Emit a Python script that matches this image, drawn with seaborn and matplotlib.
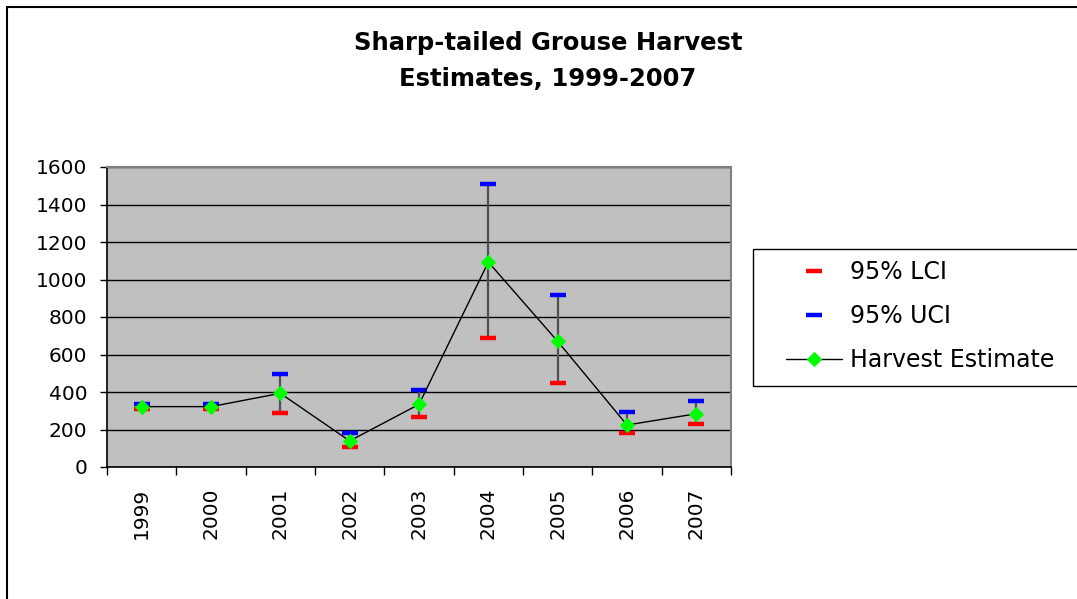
import numpy as np
import pandas as pd
import matplotlib
matplotlib.use("Agg")
import matplotlib.pyplot as plt
import seaborn as sns
from matplotlib.patches import Rectangle

years = ["1999", "2000", "2001", "2002", "2003", "2004", "2005", "2006", "2007"]
harvest = [322, 322, 393, 139, 334, 1093, 670, 224, 284]
lci = [312, 312, 290, 108, 267, 688, 446, 181, 229]
uci = [338, 338, 496, 183, 411, 1508, 917, 292, 352]
yticks = [0, 200, 400, 600, 800, 1000, 1200, 1400, 1600]

sns.set_theme(style="white")
plt.rcParams['font.family'] = ['DejaVu Sans']
plt.rcParams['text.color'] = 'black'
plt.rcParams['xtick.color'] = 'black'
plt.rcParams['ytick.color'] = 'black'

W, H = 1077, 599
fig = plt.figure(figsize=(W / 100, H / 100), dpi=100)
fig.patch.set_facecolor("white")
ax = fig.add_axes([107 / W, 1 - 467 / H, (731 - 107) / W, (467 - 167) / H])
ax.set_facecolor("#c0c0c0")

df = pd.DataFrame({"pos": np.arange(len(years)), "year": years,
                   "harvest": harvest, "lci": lci, "uci": uci})

# error bars (gray verticals)
ax.vlines(df["pos"], df["lci"], df["uci"], color="#505050", lw=1.6, zorder=3)

sns.lineplot(data=df, x="pos", y="lci", ax=ax, color="#ff0000", marker="_",
             linestyle="", markersize=11, markeredgewidth=3.2,
             markeredgecolor="#ff0000", zorder=4, label="95% LCI")
sns.lineplot(data=df, x="pos", y="uci", ax=ax, color="#0000ff", marker="_",
             linestyle="", markersize=11, markeredgewidth=3.2,
             markeredgecolor="#0000ff", zorder=4, label="95% UCI")
sns.lineplot(data=df, x="pos", y="harvest", ax=ax, color="black", lw=1.0,
             marker="D", markersize=7, markerfacecolor="#00ff00",
             markeredgecolor="#00ff00", zorder=5, label="Harvest Estimate")

ax.set_xlim(-0.5, len(years) - 0.5)
ax.set_ylim(0, 1600)
ax.set_yticks(yticks)
ax.set_yticklabels([str(v) for v in yticks], fontsize=14.5, color="black")
ax.set_xticks(df["pos"])
ax.set_xticklabels(years, rotation=90, fontsize=14.5, color="black")
ax.set_xticks(np.arange(-0.5, len(years)), minor=True)
ax.tick_params(axis="x", which="major", length=0, pad=15)
ax.tick_params(axis="x", which="minor", length=6, width=1, color="black",
               direction="out", bottom=True)
ax.tick_params(axis="y", which="major", length=5, width=1, color="black",
               direction="out", left=True, pad=9)
ax.set_xlabel("")
ax.set_ylabel("")
ax.set_axisbelow(True)
ax.yaxis.grid(True, color="black", lw=1.0)
ax.xaxis.grid(False)
for s in ["left", "bottom"]:
    ax.spines[s].set_color("black")
    ax.spines[s].set_linewidth(1.2)
for s in ["top", "right"]:
    ax.spines[s].set_color("#808080")
    ax.spines[s].set_linewidth(1.5)

# title
fig.text(548 / W, 1 - 43 / H, "Sharp-tailed Grouse Harvest", ha="center",
         va="center", fontsize=17.5, fontweight="bold", color="black")
fig.text(548 / W, 1 - 79 / H, "Estimates, 1999-2007", ha="center",
         va="center", fontsize=17.5, fontweight="bold", color="black")

# legend
handles, labels = ax.get_legend_handles_labels()
leg = ax.legend(handles, labels, loc="upper left",
                bbox_to_anchor=(774 / W, 1 - 248 / H),
                bbox_transform=fig.transFigure, frameon=False, fontsize=17,
                borderpad=0, handlelength=2.4, handletextpad=0.3,
                labelspacing=0.85, labelcolor="black")
fig.patches.append(Rectangle((753 / W, 1 - 386 / H), 0.5, (386 - 249) / H,
                             transform=fig.transFigure, fill=False,
                             edgecolor="black", lw=1.0))

# outer border
fig.patches.append(Rectangle((7 / W, -0.5), 2, 1.5 - 7 / H,
                             transform=fig.transFigure, fill=False,
                             edgecolor="black", lw=1.5))

fig.savefig("out.png", dpi=100)
